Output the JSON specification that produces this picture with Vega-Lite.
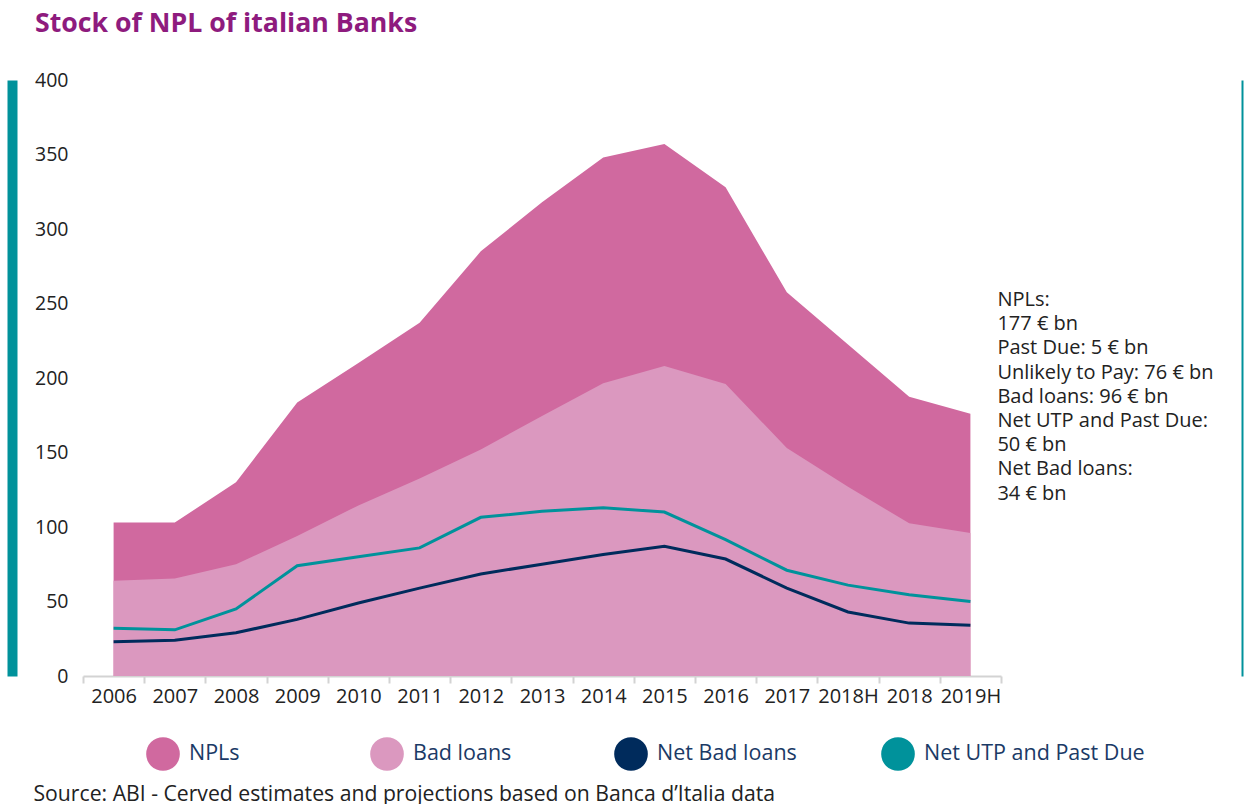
{
  "$schema": "https://vega.github.io/schema/vega-lite/v6.json",
  "width": 918,
  "height": 596,
  "autosize": {"type": "none"},
  "padding": {"left": 83, "top": 80, "right": 244, "bottom": 128},
  "background": "white",
  "config": {
    "font": "Open Sans",
    "view": {"stroke": null},
    "legend": {"padding": 0}
  },
  "title": {
    "text": "Stock of NPL of italian Banks",
    "anchor": "start",
    "frame": "group",
    "dx": -48,
    "offset": 32,
    "font": "Open Sans",
    "fontSize": 26.7,
    "fontWeight": "bold",
    "color": "#8E1B7E"
  },
  "data": {
    "values": [
      {"year": "2006", "NPLs": 103, "Bad loans": 64, "Net Bad loans": 23, "Net UTP and Past Due": 32},
      {"year": "2007", "NPLs": 103, "Bad loans": 65.5, "Net Bad loans": 24, "Net UTP and Past Due": 31},
      {"year": "2008", "NPLs": 130, "Bad loans": 75, "Net Bad loans": 29, "Net UTP and Past Due": 45},
      {"year": "2009", "NPLs": 183.5, "Bad loans": 94, "Net Bad loans": 38, "Net UTP and Past Due": 74},
      {"year": "2010", "NPLs": 210, "Bad loans": 114.5, "Net Bad loans": 49, "Net UTP and Past Due": 80},
      {"year": "2011", "NPLs": 237, "Bad loans": 132.5, "Net Bad loans": 59, "Net UTP and Past Due": 86},
      {"year": "2012", "NPLs": 285, "Bad loans": 152, "Net Bad loans": 68.5, "Net UTP and Past Due": 106.5},
      {"year": "2013", "NPLs": 318, "Bad loans": 174.5, "Net Bad loans": 75, "Net UTP and Past Due": 110.5},
      {"year": "2014", "NPLs": 348, "Bad loans": 196.5, "Net Bad loans": 81.5, "Net UTP and Past Due": 113},
      {"year": "2015", "NPLs": 357, "Bad loans": 208, "Net Bad loans": 87, "Net UTP and Past Due": 110},
      {"year": "2016", "NPLs": 328, "Bad loans": 196, "Net Bad loans": 78.5, "Net UTP and Past Due": 91.5},
      {"year": "2017", "NPLs": 257.5, "Bad loans": 153, "Net Bad loans": 59, "Net UTP and Past Due": 71},
      {"year": "2018H", "NPLs": 222.5, "Bad loans": 127, "Net Bad loans": 43, "Net UTP and Past Due": 61},
      {"year": "2018", "NPLs": 187.5, "Bad loans": 102.5, "Net Bad loans": 35.5, "Net UTP and Past Due": 54.5},
      {"year": "2019H", "NPLs": 176, "Bad loans": 96, "Net Bad loans": 34, "Net UTP and Past Due": 50}
    ]
  },
  "encoding": {
    "x": {
      "field": "year",
      "type": "ordinal",
      "sort": null,
      "bandPosition": 0.5,
      "scale": {"type": "band", "paddingInner": 0, "paddingOuter": 0},
      "axis": {
        "title": "Source: ABI - Cerved estimates and projections based on Banca d\u2019Italia data",
        "titleX": -50,
        "titleY": 124,
        "titleAlign": "left",
        "titleAnchor": null,
        "titleBaseline": "alphabetic",
        "titleFont": "Open Sans",
        "titleFontSize": 21.2,
        "titleFontWeight": "normal",
        "titleColor": "#222222",
        "titleLimit": 1200,
        "labelAngle": 0,
        "labelFont": "Open Sans",
        "labelFontSize": 20,
        "labelColor": "#222222",
        "labelPadding": 3,
        "tickBand": "extent",
        "tickSize": 7,
        "tickWidth": 2,
        "tickColor": "#D3D3D3",
        "domainColor": "#D3D3D3",
        "domainWidth": 2,
        "grid": false
      }
    }
  },
  "layer": [
    {
      "mark": {"type": "area", "opacity": 1},
      "encoding": {
        "y": {
          "field": "NPLs", "type": "quantitative", "stack": null,
          "scale": {"domain": [0, 400]},
          "axis": {
            "title": null, "values": [0, 50, 100, 150, 200, 250, 300, 350, 400],
            "domain": false, "ticks": false, "grid": false,
            "labelFont": "Open Sans", "labelFontSize": 19.5, "labelColor": "#222222", "labelPadding": 15
          }
        },
        "color": {
          "datum": "NPLs",
          "scale": {"range": ["#D0699F"]},
          "legend": {
            "title": null, "orient": "none", "legendX": 63, "legendY": 657,
            "symbolType": "circle", "symbolSize": 1134, "symbolStrokeWidth": 0,
            "symbolFillColor": "#D0699F", "symbolOpacity": 1, "labelLimit": 400,
            "labelFont": "Open Sans", "labelFontSize": 21.5, "labelColor": "#1B3A66", "labelOffset": 9
          }
        }
      }
    },
    {
      "mark": {"type": "area", "opacity": 1},
      "encoding": {
        "y": {
          "field": "Bad loans", "type": "quantitative", "stack": null,
          "scale": {"domain": [0, 400]},
          "axis": {
            "orient": "left", "offset": 71, "title": null, "labels": false, "ticks": false, "grid": false,
            "domain": true, "domainColor": "#00929B", "domainWidth": 10
          }
        },
        "color": {
          "datum": "Bad loans",
          "scale": {"range": ["#DB98BF"]},
          "legend": {
            "title": null, "orient": "none", "legendX": 287, "legendY": 657,
            "symbolType": "circle", "symbolSize": 1134, "symbolStrokeWidth": 0,
            "symbolFillColor": "#DB98BF", "symbolOpacity": 1, "labelLimit": 400,
            "labelFont": "Open Sans", "labelFontSize": 21.5, "labelColor": "#1B3A66", "labelOffset": 9
          }
        }
      }
    },
    {
      "mark": {"type": "line", "strokeWidth": 3},
      "encoding": {
        "y": {
          "field": "Net Bad loans", "type": "quantitative",
          "scale": {"domain": [0, 400]},
          "axis": {
            "orient": "right", "offset": 241, "title": null, "labels": false, "ticks": false, "grid": false,
            "domain": true, "domainColor": "#00929B", "domainWidth": 2
          }
        },
        "color": {
          "datum": "Net Bad loans",
          "scale": {"range": ["#002B5C"]},
          "legend": {
            "title": null, "orient": "none", "legendX": 531, "legendY": 657,
            "symbolType": "circle", "symbolSize": 1134, "symbolStrokeWidth": 0,
            "symbolFillColor": "#002B5C", "symbolOpacity": 1, "labelLimit": 400,
            "labelFont": "Open Sans", "labelFontSize": 21.5, "labelColor": "#1B3A66", "labelOffset": 9,
            "encode": {"symbols": {"update": {"fill": {"value": "#002B5C"}, "stroke": {"value": "transparent"}}}}
          }
        }
      }
    },
    {
      "mark": {"type": "line", "strokeWidth": 3},
      "encoding": {
        "y": {
          "field": "Net UTP and Past Due", "type": "quantitative",
          "scale": {"domain": [0, 400]},
          "axis": null
        },
        "color": {
          "datum": "Net UTP and Past Due",
          "scale": {"range": ["#00929B"]},
          "legend": {
            "title": null, "orient": "none", "legendX": 798, "legendY": 657,
            "symbolType": "circle", "symbolSize": 1134, "symbolStrokeWidth": 0,
            "symbolFillColor": "#00929B", "symbolOpacity": 1, "labelLimit": 400,
            "labelFont": "Open Sans", "labelFontSize": 21.5, "labelColor": "#1B3A66", "labelOffset": 9,
            "encode": {"symbols": {"update": {"fill": {"value": "#00929B"}, "stroke": {"value": "transparent"}}}}
          }
        }
      }
    },
    {
      "data": {"values": [{"year": "2019H", "pos": 259}]},
      "mark": {
        "type": "text",
        "text": ["NPLs:", "177 \u20ac bn", "Past Due: 5 \u20ac bn", "Unlikely to Pay: 76 \u20ac bn", "Bad loans: 96 \u20ac bn", "Net UTP and Past Due:", "\u2002 50 \u20ac bn", "Net Bad loans:", "\u2002 34 \u20ac bn"],
        "align": "left",
        "baseline": "top",
        "dx": 27,
        "font": "Open Sans",
        "fontSize": 20,
        "lineHeight": 24.2,
        "color": "#222222",
        "clip": false
      },
      "encoding": {
        "y": {"field": "pos", "type": "quantitative", "scale": {"domain": [0, 400]}, "axis": null}
      }
    }
  ],
  "resolve": {
    "scale": {"color": "independent", "y": "independent"},
    "legend": {"color": "independent"},
    "axis": {"y": "independent"}
  }
}
